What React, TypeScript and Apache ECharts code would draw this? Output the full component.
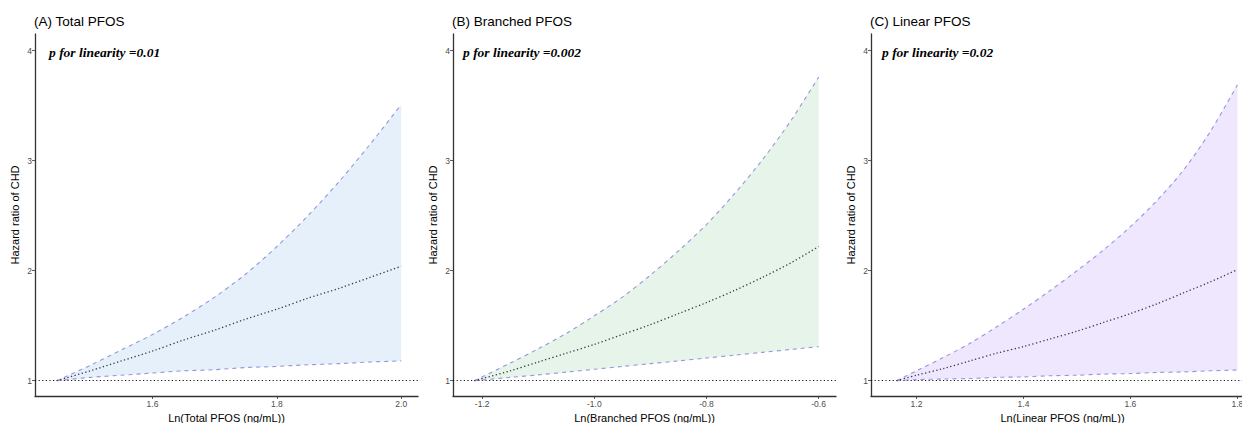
import React, { useEffect, useRef } from "react";
import * as echarts from "echarts";

// ---- data ----
const titles = ["(A) Total PFOS", "(B) Branched PFOS", "(C) Linear PFOS"];
const pTexts = ["p for linearity =0.01", "p for linearity =0.002", "p for linearity =0.02"];
const xNames = ["Ln(Total PFOS (ng/mL))", "Ln(Branched PFOS (ng/mL))", "Ln(Linear PFOS (ng/mL))"];
const yName = "Hazard ratio of CHD";

const xA = [1.446, 1.5, 1.55, 1.6, 1.65, 1.7, 1.75, 1.8, 1.85, 1.9, 1.95, 2.0];
const upperA = [1.0, 1.14, 1.28, 1.42, 1.58, 1.76, 1.97, 2.22, 2.5, 2.81, 3.15, 3.51];
const hrA = [1.0, 1.09, 1.18, 1.27, 1.37, 1.46, 1.56, 1.65, 1.75, 1.84, 1.94, 2.04];
const lowerA = [1.0, 1.03, 1.05, 1.07, 1.09, 1.1, 1.12, 1.13, 1.145, 1.155, 1.17, 1.18];
const ticksA = [1.6, 1.8, 2.0];

const xB = [-1.214, -1.15, -1.1, -1.05, -1.0, -0.95, -0.9, -0.85, -0.8, -0.75, -0.7, -0.65, -0.6];
const upperB = [1.0, 1.16, 1.29, 1.43, 1.59, 1.76, 1.96, 2.18, 2.42, 2.7, 3.01, 3.36, 3.76];
const hrB = [1.0, 1.09, 1.17, 1.25, 1.33, 1.42, 1.51, 1.61, 1.71, 1.82, 1.94, 2.07, 2.22];
const lowerB = [1.0, 1.03, 1.053, 1.078, 1.104, 1.13, 1.155, 1.18, 1.206, 1.232, 1.258, 1.284, 1.31];
const ticksB = [-1.2, -1.0, -0.8, -0.6];

const xC = [1.163, 1.2, 1.25, 1.3, 1.35, 1.4, 1.45, 1.5, 1.55, 1.6, 1.65, 1.7, 1.75, 1.8];
const upperC = [1.0, 1.09, 1.21, 1.34, 1.49, 1.65, 1.82, 2.0, 2.19, 2.4, 2.64, 2.92, 3.27, 3.69];
const hrC = [1.0, 1.05, 1.11, 1.18, 1.25, 1.31, 1.38, 1.45, 1.53, 1.61, 1.7, 1.8, 1.9, 2.01];
const lowerC = [1.0, 1.01, 1.015, 1.02, 1.03, 1.035, 1.045, 1.05, 1.06, 1.065, 1.075, 1.08, 1.09, 1.097];
const ticksC = [1.2, 1.4, 1.6, 1.8];

const yTicks = [1, 2, 3, 4];
const refLine = 1;

const xRanges = [
  [1.411, 2.027],
  [-1.252, -0.569],
  [1.115, 1.831],
];
const yRange = [0.861, 4.152];

const fills = ["#e6f0fa", "#e6f4ea", "#efe7fd"];

// ---- layout ----
const gridLefts = [35, 453, 871];
const gridTop = 34;
const gridW = 383;
const gridH = 362;
const pTextX = [49, 463, 882];

const panels = [
  { xs: xA, up: upperA, hr: hrA, lo: lowerA, ticks: ticksA },
  { xs: xB, up: upperB, hr: hrB, lo: lowerB, ticks: ticksB },
  { xs: xC, up: upperC, hr: hrC, lo: lowerC, ticks: ticksC },
];

const SANS = "'Liberation Sans', Arial, Helvetica, sans-serif";
const SERIF = "'Liberation Serif', 'Times New Roman', serif";
const BAND_COLOR = "#9596dc";

function buildOption() {
  const grid: any[] = [];
  const xAxis: any[] = [];
  const yAxis: any[] = [];
  const series: any[] = [];
  const graphic: any[] = [];

  panels.forEach((p, i) => {
    grid.push({
      left: gridLefts[i],
      top: gridTop,
      width: gridW,
      height: gridH,
      containLabel: false,
      outerBoundsMode: "none",
    });
    xAxis.push({
      type: "value",
      gridIndex: i,
      min: xRanges[i][0],
      max: xRanges[i][1],
      name: xNames[i],
      nameLocation: "middle",
      nameGap: 16,
      nameTextStyle: { fontFamily: SANS, fontSize: 11, color: "#000" },
      axisLine: { show: true, onZero: false, lineStyle: { color: "#333", width: 1.3 } },
      axisTick: { show: true, length: 3, customValues: p.ticks, lineStyle: { color: "#333", width: 0.8 } },
      axisLabel: {
        customValues: p.ticks,
        formatter: (v: number) => v.toFixed(1),
        fontFamily: SANS,
        fontSize: 8.5,
        color: "#4d4d4d",
        margin: 3,
      },
      splitLine: { show: false },
    });
    yAxis.push({
      type: "value",
      gridIndex: i,
      min: yRange[0],
      max: yRange[1],
      name: yName,
      nameLocation: "middle",
      nameGap: 15,
      nameRotate: 90,
      nameTextStyle: { fontFamily: SANS, fontSize: 11, color: "#000" },
      axisLine: { show: true, onZero: false, lineStyle: { color: "#333", width: 1.3 } },
      axisTick: { show: true, length: 3, customValues: yTicks, lineStyle: { color: "#333", width: 0.8 } },
      axisLabel: {
        customValues: yTicks,
        formatter: (v: number) => String(Math.round(v)),
        fontFamily: SANS,
        fontSize: 8.5,
        color: "#4d4d4d",
        margin: 3,
      },
      splitLine: { show: false },
    });

    const smooth = 0.3;
    // CI band fill, drawn as one polygon through the axis scales
    series.push({
      type: "custom",
      xAxisIndex: i,
      yAxisIndex: i,
      data: p.xs.map((x, j) => [x, p.lo[j], p.up[j]]),
      encode: { x: 0, y: [1, 2] },
      silent: true,
      z: 1,
      renderItem: (params: any, api: any) => {
        if (params.dataIndex !== 0) return null;
        const top = p.xs.map((x, j) => api.coord([x, p.up[j]]));
        const bottom = p.xs.map((x, j) => api.coord([x, p.lo[j]])).reverse();
        return {
          type: "polygon",
          shape: { points: top.concat(bottom) },
          style: { fill: fills[i], stroke: "none" },
          silent: true,
        };
      },
    });
    // upper CI
    series.push({
      type: "line",
      xAxisIndex: i,
      yAxisIndex: i,
      data: p.xs.map((x, j) => [x, p.up[j]]),
      symbol: "none",
      smooth,
      lineStyle: { color: BAND_COLOR, width: 1.1, type: [4, 4] },
      silent: true,
      z: 3,
    });
    // lower CI
    series.push({
      type: "line",
      xAxisIndex: i,
      yAxisIndex: i,
      data: p.xs.map((x, j) => [x, p.lo[j]]),
      symbol: "none",
      smooth,
      lineStyle: { color: BAND_COLOR, width: 1.1, type: [4, 4] },
      silent: true,
      z: 3,
    });
    // HR curve + reference line
    series.push({
      type: "line",
      xAxisIndex: i,
      yAxisIndex: i,
      data: p.xs.map((x, j) => [x, p.hr[j]]),
      symbol: "none",
      smooth,
      lineStyle: { color: "#3a3a4a", width: 1.3, type: [1.3, 2.4] },
      silent: true,
      z: 4,
      markLine: {
        silent: true,
        symbol: "none",
        label: { show: false },
        lineStyle: { color: "#111", width: 1.1, type: [1.2, 2.4] },
        data: [{ yAxis: refLine }],
        z: 2,
      },
    });

    graphic.push({
      type: "text",
      x: gridLefts[i] - 1,
      y: 21,
      style: {
        text: titles[i],
        fontFamily: SANS,
        fontSize: 13.5,
        fill: "#000",
        textVerticalAlign: "middle",
        verticalAlign: "middle",
      },
    });
    graphic.push({
      type: "text",
      x: pTextX[i],
      y: 52,
      style: {
        text: pTexts[i],
        fontFamily: SERIF,
        fontSize: 13.5,
        fontStyle: "italic",
        fontWeight: "bold",
        fill: "#000",
        textVerticalAlign: "middle",
        verticalAlign: "middle",
      },
    });
  });

  return {
    animation: false,
    backgroundColor: "#ffffff",
    grid,
    xAxis,
    yAxis,
    series,
    graphic,
  };
}

export default function App() {
  const ref = useRef<HTMLDivElement>(null);
  useEffect(() => {
    if (!ref.current) return;
    const chart = echarts.init(ref.current, undefined, { renderer: "svg" });
    chart.setOption(buildOption() as any);
    return () => chart.dispose();
  }, []);
  return (
    <div
      ref={ref}
      style={{ width: 1242, height: 423, position: "absolute", left: 0, top: 0 }}
    />
  );
}
